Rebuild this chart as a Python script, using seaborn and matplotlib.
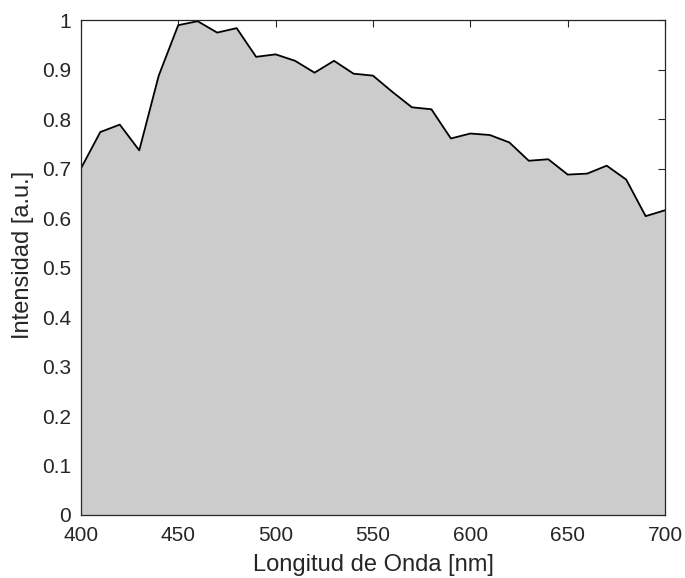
import matplotlib
matplotlib.use("Agg")
import matplotlib.pyplot as plt
import seaborn as sns
import numpy as np
import pandas as pd

wavelength = [400, 410, 420, 430, 440, 450, 460, 470, 480, 490, 500, 510, 520, 530, 540, 550,
              560, 570, 580, 590, 600, 610, 620, 630, 640, 650, 660, 670, 680, 690, 700]
intensity = [0.700, 0.774, 0.789, 0.737, 0.888, 0.990, 0.998, 0.975, 0.984, 0.926, 0.931, 0.918,
             0.894, 0.918, 0.892, 0.888, 0.855, 0.824, 0.820, 0.761, 0.771, 0.768, 0.753, 0.716,
             0.719, 0.688, 0.690, 0.706, 0.678, 0.604, 0.616]
xticks = [400, 450, 500, 550, 600, 650, 700]
yticks = [0, 0.1, 0.2, 0.3, 0.4, 0.5, 0.6, 0.7, 0.8, 0.9, 1.0]
ytick_labels = ["0", "0.1", "0.2", "0.3", "0.4", "0.5", "0.6", "0.7", "0.8", "0.9", "1"]

sns.set_style("white")
plt.rcParams['font.family'] = ['Liberation Sans', 'DejaVu Sans']

df = pd.DataFrame({"wl": wavelength, "I": intensity})

fig = plt.figure(figsize=(6.85, 5.78), dpi=100)
ax = fig.add_axes([0.118, 0.109, 0.853, 0.856])
ax.fill_between(df["wl"], 0, df["I"], color="#cccccc", linewidth=0)
sns.lineplot(data=df, x="wl", y="I", ax=ax, color="black", linewidth=1.3)

ax.set_xlim(400, 700)
ax.set_ylim(0, 1)
ax.set_xticks(xticks)
ax.set_xticklabels([str(v) for v in xticks])
ax.set_yticks(yticks)
ax.set_yticklabels(ytick_labels)
ax.tick_params(direction="in", length=5, width=0.8, top=True, right=True,
               labelsize=15, colors="#262626", labelcolor="#262626")
ax.tick_params(axis="x", pad=8)
ax.tick_params(axis="y", pad=7)
for s in ax.spines.values():
    s.set_color("#262626")
    s.set_linewidth(0.9)
ax.set_xlabel("Longitud de Onda [nm]", fontsize=17, color="#262626")
ax.set_ylabel("Intensidad [a.u.]", fontsize=17, color="#262626")
ax.xaxis.set_label_coords(0.5, -0.101)
ax.xaxis.label.set_va("center")
ax.yaxis.set_label_coords((23 - 81) / 584, 0.525)
ax.yaxis.label.set_va("center")

fig.savefig("out.png", dpi=100)
